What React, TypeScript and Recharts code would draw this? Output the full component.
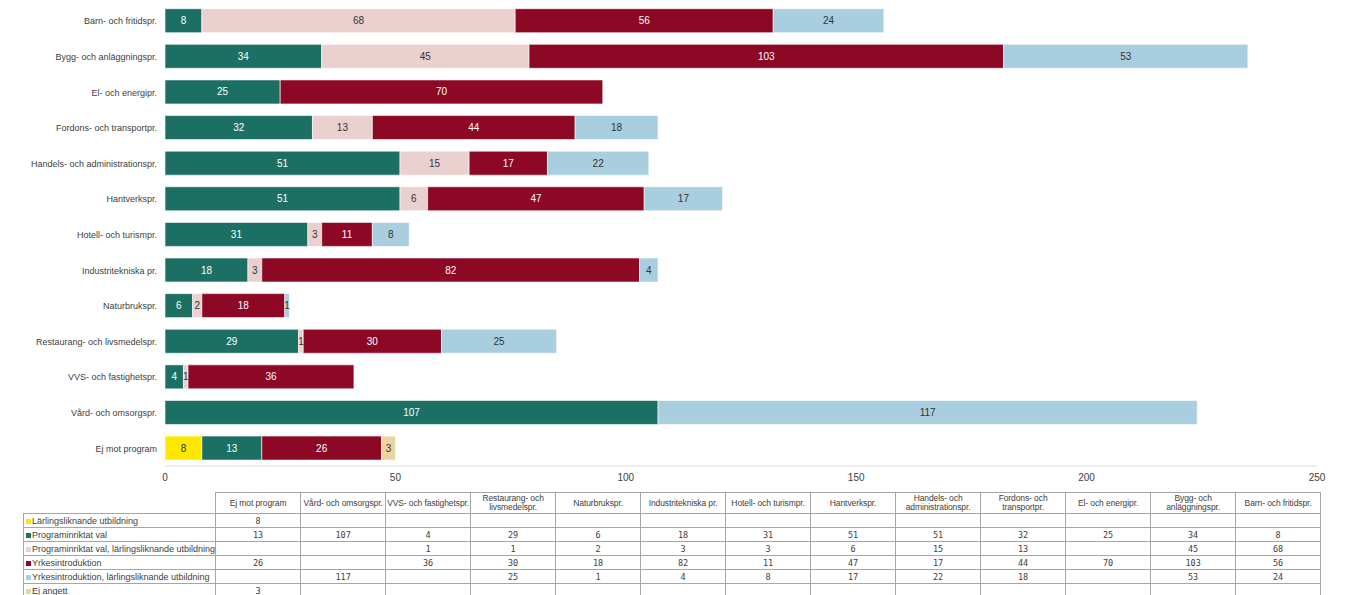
import React from 'react';
import { BarChart, Bar, XAxis, YAxis, LabelList } from 'recharts';

// chart order, top to bottom
const categories = [
  'Barn- och fritidspr.',
  'Bygg- och anläggningspr.',
  'El- och energipr.',
  'Fordons- och transportpr.',
  'Handels- och administrationspr.',
  'Hantverkspr.',
  'Hotell- och turismpr.',
  'Industritekniska pr.',
  'Naturbrukspr.',
  'Restaurang- och livsmedelspr.',
  'VVS- och fastighetspr.',
  'Vård- och omsorgspr.',
  'Ej mot program',
];

// header labels in the data table (same order as categories, with line breaks)
const headerLabels = [
  'Barn- och fritidspr.',
  'Bygg- och\nanläggningspr.',
  'El- och energipr.',
  'Fordons- och\ntransportpr.',
  'Handels- och\nadministrationspr.',
  'Hantverkspr.',
  'Hotell- och turismpr.',
  'Industritekniska pr.',
  'Naturbrukspr.',
  'Restaurang- och\nlivsmedelspr.',
  'VVS- och fastighetspr.',
  'Vård- och omsorgspr.',
  'Ej mot program',
];

type Val = number | null;

const larling: Val[] = [null, null, null, null, null, null, null, null, null, null, null, null, 8];
const programinriktat: Val[] = [8, 34, 25, 32, 51, 51, 31, 18, 6, 29, 4, 107, 13];
const programLarling: Val[] = [68, 45, null, 13, 15, 6, 3, 3, 2, 1, 1, null, null];
const yrkesintro: Val[] = [56, 103, 70, 44, 17, 47, 11, 82, 18, 30, 36, null, 26];
const yrkesLarling: Val[] = [24, 53, null, 18, 22, 17, 8, 4, 1, 25, null, 117, null];
const ejAngett: Val[] = [null, null, null, null, null, null, null, null, null, null, null, null, 3];

const xTicks = [0, 50, 100, 150, 200, 250];

const series = [
  { key: 'larling', name: 'Lärlingsliknande utbildning', values: larling, color: '#ffe800', text: '#333333' },
  { key: 'programinriktat', name: 'Programinriktat val', values: programinriktat, color: '#1b7063', text: '#ffffff' },
  { key: 'programLarling', name: 'Programinriktat val, lärlingsliknande utbildning', values: programLarling, color: '#ebd0d0', text: '#333333' },
  { key: 'yrkesintro', name: 'Yrkesintroduktion', values: yrkesintro, color: '#8c0825', text: '#ffffff' },
  { key: 'yrkesLarling', name: 'Yrkesintroduktion, lärlingsliknande utbildning', values: yrkesLarling, color: '#a9cee0', text: '#333333' },
  { key: 'ejAngett', name: 'Ej angett', values: ejAngett, color: '#e9d59d', text: '#333333' },
];

const data = categories.map((cat, i) => {
  const row: Record<string, string | Val> = { category: cat };
  series.forEach((s) => {
    row[s.key] = s.values[i];
  });
  return row;
});

const FONT = '"Liberation Sans", Arial, sans-serif';
const MONO = '"DejaVu Sans Mono", "Liberation Mono", monospace';

// table columns run opposite to the chart rows
const tableOrder = categories.map((_, i) => categories.length - 1 - i);

// single-line category tick, no wrapping
function CategoryTick(props: any) {
  const { x, y, payload } = props;
  return (
    <text x={x} y={y} dy={3.5} textAnchor="end" fontSize={9} fill="#404040" fontFamily={FONT}>
      {payload.value}
    </text>
  );
}

export default function App() {
  const border = '1px solid #a6a6a6';
  return (
    <div style={{ position: 'absolute', left: 0, top: 0, width: 1352, height: 595, overflow: 'hidden', background: '#fff', fontFamily: FONT }}>
      <BarChart
        width={1352}
        height={490}
        data={data}
        layout="vertical"
        margin={{ top: 3, right: 35, bottom: 4, left: 0 }}
        barCategoryGap="16%"
      >
        <XAxis
          type="number"
          domain={[0, 250]}
          ticks={xTicks}
          tickLine={false}
          axisLine={{ stroke: '#d9d9d9' }}
          tick={{ fontSize: 10, fill: '#404040', fontFamily: FONT }}
          height={20}
        />
        <YAxis
          type="category"
          dataKey="category"
          width={165}
          tickLine={false}
          axisLine={false}
          interval={0}
          tick={<CategoryTick />}
        />
        {series.map((s) => (
          <Bar
            key={s.key}
            dataKey={s.key}
            name={s.name}
            stackId="a"
            fill={s.color}
            stroke="#ffffff"
            strokeWidth={0.6}
            isAnimationActive={false}
          >
            <LabelList
              dataKey={s.key}
              position="center"
              fill={s.text}
              fontSize={10}
              fontFamily={FONT}
            />
          </Bar>
        ))}
      </BarChart>

      <table
        style={{
          position: 'absolute',
          left: 23,
          top: 492,
          borderCollapse: 'collapse',
          tableLayout: 'fixed',
          fontSize: 9,
          color: '#404040',
          fontFamily: FONT,
        }}
      >
        <colgroup>
          <col style={{ width: 189 }} />
          {tableOrder.map((i) => (
            <col key={i} style={{ width: 85 }} />
          ))}
        </colgroup>
        <tbody>
          <tr style={{ height: 21 }}>
            <td style={{ padding: 0 }} />
            {tableOrder.map((i) => (
              <td
                key={i}
                style={{
                  border,
                  padding: 0,
                  textAlign: 'center',
                  whiteSpace: 'pre',
                  overflow: 'hidden',
                  lineHeight: '9px',
                  fontSize: 8.5,
                  letterSpacing: -0.1,
                }}
              >
                {headerLabels[i]}
              </td>
            ))}
          </tr>
          {series.map((s) => (
            <tr key={s.key} style={{ height: 14 }}>
              <td style={{ border, padding: '0 0 0 2px', whiteSpace: 'nowrap', lineHeight: '12px', height: 13 }}>
                <span
                  style={{
                    display: 'inline-block',
                    width: 5,
                    height: 5,
                    background: s.color,
                    marginRight: 1,
                    verticalAlign: 'middle',
                  }}
                />
                {s.name}
              </td>
              {tableOrder.map((i) => (
                <td
                  key={i}
                  style={{
                    border,
                    padding: 0,
                    textAlign: 'center',
                    fontFamily: MONO,
                    fontSize: 8.5,
                    lineHeight: '12px',
                    height: 13,
                  }}
                >
                  {s.values[i] ?? ''}
                </td>
              ))}
            </tr>
          ))}
        </tbody>
      </table>
    </div>
  );
}
